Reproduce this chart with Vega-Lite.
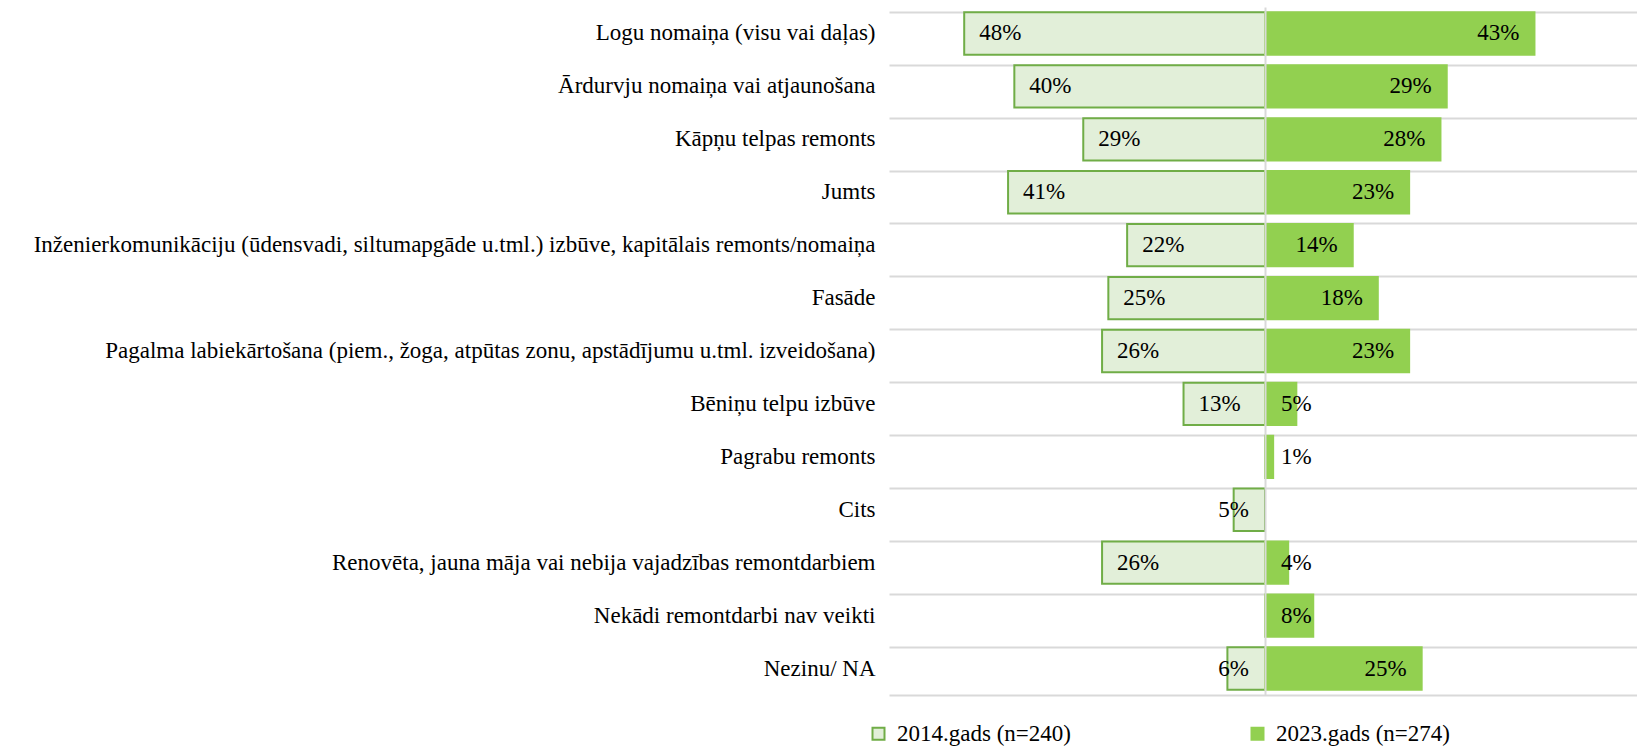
{
  "$schema": "https://vega.github.io/schema/vega-lite/v6.json",
  "autosize": {"type": "none"},
  "padding": {"left": 889, "top": 7, "right": 0, "bottom": 55},
  "width": 752,
  "height": 688,
  "background": "white",
  "config": {
    "view": {"stroke": null},
    "font": "Liberation Serif",
    "text": {"font": "Liberation Serif", "fontSize": 23, "color": "#000000", "baseline": "middle"}
  },
  "data": {
    "values": [
      {"cat": "Logu nomaiņa (visu vai daļas)", "year": "2014.gads (n=240)", "value": -48, "label": "48%"},
      {"cat": "Logu nomaiņa (visu vai daļas)", "year": "2023.gads (n=274)", "value": 43, "label": "43%"},
      {"cat": "Ārdurvju nomaiņa vai atjaunošana", "year": "2014.gads (n=240)", "value": -40, "label": "40%"},
      {"cat": "Ārdurvju nomaiņa vai atjaunošana", "year": "2023.gads (n=274)", "value": 29, "label": "29%"},
      {"cat": "Kāpņu telpas remonts", "year": "2014.gads (n=240)", "value": -29, "label": "29%"},
      {"cat": "Kāpņu telpas remonts", "year": "2023.gads (n=274)", "value": 28, "label": "28%"},
      {"cat": "Jumts", "year": "2014.gads (n=240)", "value": -41, "label": "41%"},
      {"cat": "Jumts", "year": "2023.gads (n=274)", "value": 23, "label": "23%"},
      {"cat": "Inženierkomunikāciju (ūdensvadi, siltumapgāde u.tml.)  izbūve, kapitālais remonts/nomaiņa", "year": "2014.gads (n=240)", "value": -22, "label": "22%"},
      {"cat": "Inženierkomunikāciju (ūdensvadi, siltumapgāde u.tml.)  izbūve, kapitālais remonts/nomaiņa", "year": "2023.gads (n=274)", "value": 14, "label": "14%"},
      {"cat": "Fasāde", "year": "2014.gads (n=240)", "value": -25, "label": "25%"},
      {"cat": "Fasāde", "year": "2023.gads (n=274)", "value": 18, "label": "18%"},
      {"cat": "Pagalma labiekārtošana (piem., žoga, atpūtas zonu, apstādījumu u.tml. izveidošana)", "year": "2014.gads (n=240)", "value": -26, "label": "26%"},
      {"cat": "Pagalma labiekārtošana (piem., žoga, atpūtas zonu, apstādījumu u.tml. izveidošana)", "year": "2023.gads (n=274)", "value": 23, "label": "23%"},
      {"cat": "Bēniņu telpu izbūve", "year": "2014.gads (n=240)", "value": -13, "label": "13%"},
      {"cat": "Bēniņu telpu izbūve", "year": "2023.gads (n=274)", "value": 5, "label": "5%"},
      {"cat": "Pagrabu remonts", "year": "2023.gads (n=274)", "value": 1.3, "label": "1%"},
      {"cat": "Cits", "year": "2014.gads (n=240)", "value": -5, "label": "5%"},
      {"cat": "Renovēta, jauna māja vai nebija vajadzības remontdarbiem", "year": "2014.gads (n=240)", "value": -26, "label": "26%"},
      {"cat": "Renovēta, jauna māja vai nebija vajadzības remontdarbiem", "year": "2023.gads (n=274)", "value": 3.7, "label": "4%"},
      {"cat": "Nekādi remontdarbi nav veikti", "year": "2023.gads (n=274)", "value": 7.7, "label": "8%"},
      {"cat": "Nezinu/ NA", "year": "2014.gads (n=240)", "value": -6, "label": "6%"},
      {"cat": "Nezinu/ NA", "year": "2023.gads (n=274)", "value": 25, "label": "25%"}
    ]
  },
  "encoding": {
    "y": {
      "field": "cat",
      "type": "nominal",
      "sort": null,
      "scale": {"paddingInner": 0.2, "paddingOuter": 0.1},
      "axis": {
        "title": null,
        "domain": false,
        "ticks": false,
        "grid": true,
        "bandPosition": 0,
        "gridColor": "#d9d9d9",
        "gridWidth": 2,
        "labelFont": "Liberation Serif",
        "labelFontSize": 23,
        "labelColor": "#000000",
        "labelPadding": 14,
        "labelLimit": 0
      }
    }
  },
  "layer": [
    {
      "mark": {"type": "bar", "strokeWidth": 2},
      "encoding": {
        "x": {
          "field": "value",
          "type": "quantitative",
          "scale": {"domain": [-60, 60], "nice": false, "zero": true},
          "axis": {
            "title": null,
            "values": [0],
            "labels": false,
            "ticks": false,
            "domain": true,
            "domainColor": "#d9d9d9",
            "domainWidth": 2,
            "grid": true,
            "gridColor": "#d9d9d9",
            "gridWidth": 2,
            "zindex": 1
          }
        },
        "fill": {
          "field": "year",
          "type": "nominal",
          "scale": {"domain": ["2014.gads (n=240)", "2023.gads (n=274)"], "range": ["#e2efd9", "#92d050"]},
          "legend": {
            "title": null,
            "orient": "none",
            "legendX": -22,
            "legendY": 715,
            "direction": "horizontal",
            "symbolType": "square",
            "symbolSize": 144,
            "symbolStrokeWidth": 2,
            "labelFont": "Liberation Serif",
            "labelFontSize": 23,
            "labelColor": "#000000",
            "labelOffset": 7,
            "columnPadding": 175,
            "labelLimit": 0
          }
        },
        "stroke": {
          "field": "year",
          "type": "nominal",
          "scale": {"domain": ["2014.gads (n=240)", "2023.gads (n=274)"], "range": ["#70ad47", "#92d050"]},
          "legend": {
            "title": null,
            "orient": "none",
            "legendX": -22,
            "legendY": 715,
            "direction": "horizontal",
            "symbolType": "square",
            "symbolSize": 144,
            "symbolStrokeWidth": 2,
            "labelFont": "Liberation Serif",
            "labelFontSize": 23,
            "labelColor": "#000000",
            "labelOffset": 7,
            "columnPadding": 175,
            "labelLimit": 0
          }
        }
      }
    },
    {
      "transform": [{"filter": "datum.value <= -10"}],
      "mark": {"type": "text", "align": "left", "dx": 15},
      "encoding": {
        "x": {"field": "value", "type": "quantitative"},
        "text": {"field": "label"}
      }
    },
    {
      "transform": [{"filter": "datum.value < 0 && datum.value > -10"}],
      "mark": {"type": "text", "align": "right", "dx": -16},
      "encoding": {
        "x": {"datum": 0, "type": "quantitative"},
        "text": {"field": "label"}
      }
    },
    {
      "transform": [{"filter": "datum.value >= 10"}],
      "mark": {"type": "text", "align": "right", "dx": -15},
      "encoding": {
        "x": {"field": "value", "type": "quantitative"},
        "text": {"field": "label"}
      }
    },
    {
      "transform": [{"filter": "datum.value > 0 && datum.value < 10"}],
      "mark": {"type": "text", "align": "left", "dx": 16},
      "encoding": {
        "x": {"datum": 0, "type": "quantitative"},
        "text": {"field": "label"}
      }
    }
  ]
}
